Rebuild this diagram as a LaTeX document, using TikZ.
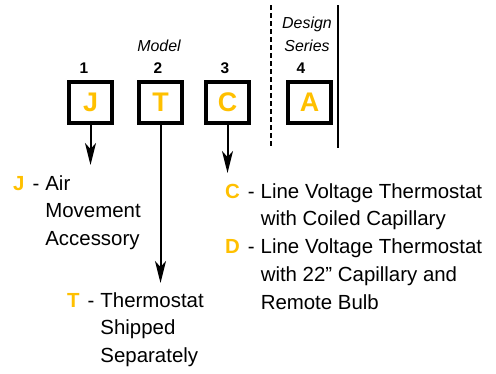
\documentclass[tikz,border=0pt]{standalone}
\usepackage{fontspec}
\setmainfont{Liberation Sans}
\usepackage{tikz}
\usetikzlibrary{arrows.meta, positioning}
\definecolor{codeorange}{RGB}{255,192,0}
\newcommand{\codeLetter}[1]{\textbf{\color{codeorange}#1}\hspace{8bp}-\hspace{6bp}}

\begin{document}
\begin{tikzpicture}[x=1bp, y=-1bp,
                codebox/.style={draw, line width=4bp, minimum width=43bp, minimum height=41bp, inner sep=0pt, font=\fontsize{27}{27}\bfseries, text=codeorange},
                digit/.style={inner sep=0pt, font=\fontsize{15.5}{15.5}\bfseries},
                heading/.style={inner sep=0pt, align=center, font=\fontsize{16}{23}\itshape},
                option/.style={inner sep=0pt, anchor=base west, font=\fontsize{20.5}{28}\selectfont},
                divider/.style={line width=2bp},
                >={Stealth[length=22bp, width=11bp, inset=6bp]}
            ]

                \useasboundingbox (0,0) rectangle (496,373);

                \node[codebox] (J) at (90.5,102.5)  {J};
                \node[codebox] (T) at (160.5,102.5) {T};
                \node[codebox] (C) at (227.5,102.5) {C};
                \node[codebox] (A) at (309.5,102.5) {A};

                \node[digit] (n1) [above=6bp of J, xshift=-6.5bp] {1};
                \node[digit] (n2) [above=6bp of T, xshift=-2.5bp] {2};
                \node[digit] (n3) [above=6bp of C, xshift=-2.5bp] {3};
                \node[digit] (n4) [above=6bp of A, xshift=-8.5bp] {4};

                \node[heading] (model)  [above=11bp of n2, xshift=1bp] {Model};
                \node[heading] (series) [above=11bp of n4, xshift=6bp] {Design\\Series};

                \draw[divider, dash pattern=on 5bp off 3bp] (271,5) -- (271,148);
                \draw[divider] (338,5) -- (338,148);

                \node[option] (Jtext) at (13,190)  {\begin{tabular}[t]{@{}l@{}l@{}}\codeLetter{J} & Air\\ & Movement\\ & Accessory\end{tabular}};
                \node[option] (Ttext) at (67,307)  {\begin{tabular}[t]{@{}l@{}l@{}}\codeLetter{T} & Thermostat\\ & Shipped\\ & Separately\end{tabular}};
                \node[option] (Ctext) at (225,198) {\begin{tabular}[t]{@{}l@{}l@{}}\codeLetter{C} & Line Voltage Thermostat\\ & with Coiled Capillary\\ \codeLetter{D} & Line Voltage Thermostat\\ & with 22” Capillary and\\ & Remote Bulb\end{tabular}};

                \coordinate (Jtip) at (90.5,165);
                \coordinate (Ttip) at (160.5,283);
                \coordinate (Ctip) at (227.5,173);

                \draw[->, line width=2bp] (J) -- (Jtip);
                \draw[->, line width=2bp] (T) -- (Ttip);
                \draw[->, line width=2bp] (C) -- (Ctip);

            \end{tikzpicture}
\end{document}
